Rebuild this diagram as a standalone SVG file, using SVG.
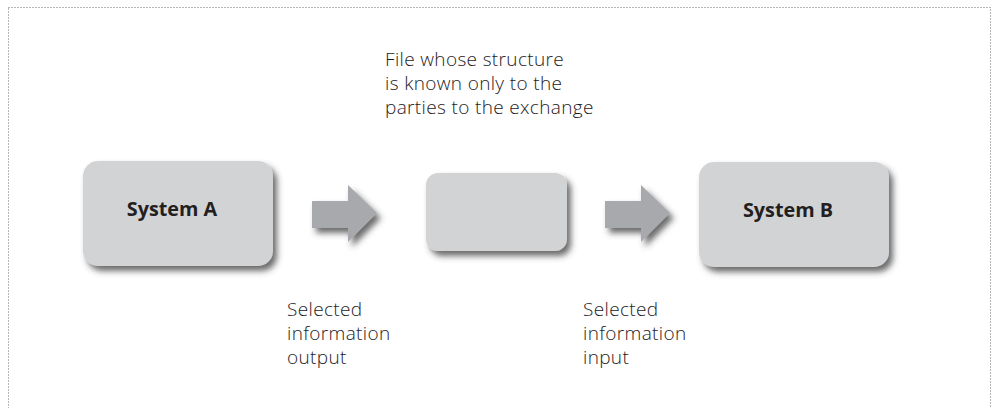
<svg xmlns="http://www.w3.org/2000/svg" width="993" height="408" viewBox="0 0 993 408">
  <defs>
    <filter id="shadow" x="-20%" y="-20%" width="150%" height="160%">
      <feGaussianBlur in="SourceAlpha" stdDeviation="3"/>
      <feOffset dx="4" dy="5" result="b"/>
      <feFlood flood-color="#3a3a3a" flood-opacity="0.75"/>
      <feComposite in2="b" operator="in"/>
      <feMerge>
        <feMergeNode/>
        <feMergeNode in="SourceGraphic"/>
      </feMerge>
    </filter>
    <path id="block-arrow" d="M0,16 H36 V0 L65,28 L36,57 V43 H0 Z"/>
  </defs>
  <style>
    .frame { fill: none; stroke: #6f6f6f; stroke-width: 1; stroke-dasharray: 1 2; }
    .box { fill: #d2d3d5; filter: url(#shadow); }
    .arrow { fill: #a8a9ac; filter: url(#shadow); }
    .title { font-family: "Open Sans", "Liberation Sans", sans-serif; font-weight: bold; font-size: 19.8px; fill: #231f20; text-anchor: middle; }
    .note { font-family: "Open Sans", "Liberation Sans", sans-serif; font-weight: 300; font-size: 19px; letter-spacing: 0.35px; fill: #1e1b1c; }
  </style>

  <rect class="frame" x="8.5" y="7.5" width="982" height="420"/>

  <g id="system-a">
    <rect class="box" x="83" y="161" width="190" height="105" rx="15"/>
    <text class="title" x="172" y="216">System A</text>
  </g>

  <g id="exchange-file">
    <rect class="box" x="426" y="173" width="141" height="78" rx="12"/>
  </g>

  <g id="system-b">
    <rect class="box" x="699" y="162" width="190" height="105" rx="15"/>
    <text class="title" x="788" y="217">System B</text>
  </g>

  <g id="connectors">
    <use href="#block-arrow" class="arrow" x="312" y="185"/>
    <use href="#block-arrow" class="arrow" x="605" y="185"/>
  </g>

  <g id="labels">
    <text class="note" x="385" y="66">
      <tspan x="385" dy="0">File whose structure</tspan>
      <tspan x="385" dy="24">is known only to the</tspan>
      <tspan x="385" dy="24">parties to the exchange</tspan>
    </text>
    <text class="note" x="287" y="316">
      <tspan x="287" dy="0">Selected</tspan>
      <tspan x="287" dy="24">information</tspan>
      <tspan x="287" dy="24">output</tspan>
    </text>
    <text class="note" x="583" y="316">
      <tspan x="583" dy="0">Selected</tspan>
      <tspan x="583" dy="24">information</tspan>
      <tspan x="583" dy="24">input</tspan>
    </text>
  </g>
</svg>
